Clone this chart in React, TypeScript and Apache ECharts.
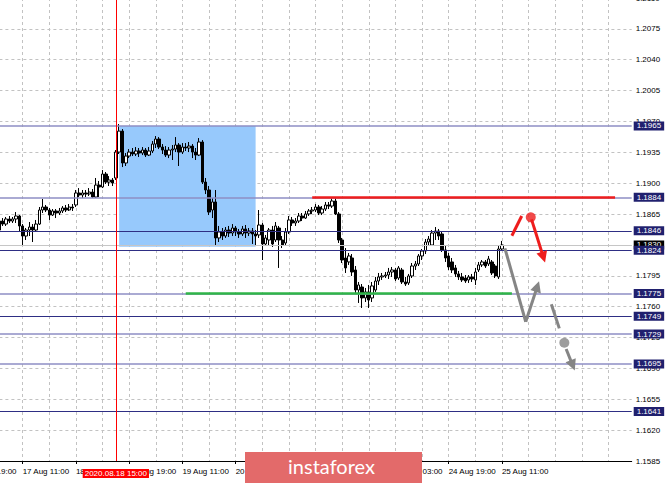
import React, { useEffect, useRef } from "react";
import * as echarts from "echarts";

// ---------- time axis (H1 bars, weekend skipped) ----------
const MONTHS = ["Jan", "Feb", "Mar", "Apr", "May", "Jun", "Jul", "Aug", "Sep", "Oct", "Nov", "Dec"];
const FIRST_CATEGORY_UTC = Date.UTC(2020, 7, 14, 19); // 14 Aug 19:00
const CATEGORY_COUNT = 200;
const LABEL_STEP = 16;
const GRID_STEP = 8;

function buildCategories(): string[] {
  const out: string[] = [];
  let t = FIRST_CATEGORY_UTC;
  while (out.length < CATEGORY_COUNT) {
    const d = new Date(t);
    const wd = d.getUTCDay();
    if (wd !== 0 && wd !== 6) {
      out.push(`${d.getUTCDate()} ${MONTHS[d.getUTCMonth()]} ${String(d.getUTCHours()).padStart(2, "0")}:00`);
    }
    t += 3600000;
  }
  return out;
}
const categories = buildCategories();

// ---------- candles (EURUSD H1), first visible bar at category 9 ----------
const FIRST_BAR = 9;
const opens = [
  1.18469, 1.18571, 1.18537, 1.18594, 1.18571, 1.18594, 1.18628, 1.18515, 1.18401, 1.18469, 1.18503, 1.18469,
  1.18537, 1.18696, 1.18730, 1.18696, 1.18639, 1.18685, 1.18662, 1.18685, 1.18719, 1.18696, 1.18730, 1.18753,
  1.18889, 1.18866, 1.18889, 1.18877, 1.18900, 1.18843, 1.18979, 1.18957, 1.19104, 1.19013, 1.19036, 1.19059,
  1.19353, 1.19591, 1.19229, 1.19308, 1.19353, 1.19331, 1.19365, 1.19342, 1.19376, 1.19319, 1.19365, 1.19444,
  1.19501, 1.19410, 1.19376, 1.19319, 1.19376, 1.19387, 1.19433, 1.19353, 1.19410, 1.19399, 1.19421, 1.19353,
  1.19319, 1.19467, 1.19013, 1.18923, 1.18696, 1.18787, 1.18379, 1.18447, 1.18401, 1.18469, 1.18435, 1.18492,
  1.18447, 1.18424, 1.18481, 1.18435, 1.18458, 1.18424, 1.18413, 1.18526, 1.18311, 1.18356, 1.18469, 1.18356,
  1.18492, 1.18356, 1.18322, 1.18447, 1.18583, 1.18549, 1.18571, 1.18628, 1.18605, 1.18651, 1.18685, 1.18696,
  1.18730, 1.18662, 1.18707, 1.18753, 1.18741, 1.18798, 1.18651, 1.18356, 1.18152, 1.18107, 1.18152, 1.18016,
  1.17789, 1.17823, 1.17699, 1.17767, 1.17699, 1.17789, 1.17891, 1.17937, 1.17948, 1.17959, 1.17993, 1.18016,
  1.17925, 1.18016, 1.17880, 1.17869, 1.17948, 1.18061, 1.18084, 1.18175, 1.18231, 1.18333, 1.18299, 1.18435,
  1.18458, 1.18424, 1.18243, 1.18175, 1.18107, 1.18039, 1.17971, 1.17937, 1.17925, 1.17903, 1.17937, 1.17903,
  1.18016, 1.18073, 1.18107, 1.18084, 1.18107, 1.18061, 1.17937, 1.18254,
];
const closes = [
  1.18571, 1.18537, 1.18594, 1.18571, 1.18594, 1.18628, 1.18515, 1.18401, 1.18469, 1.18503, 1.18469, 1.18537,
  1.18696, 1.18730, 1.18696, 1.18639, 1.18685, 1.18662, 1.18685, 1.18719, 1.18696, 1.18730, 1.18719, 1.18889,
  1.18866, 1.18889, 1.18877, 1.18900, 1.18843, 1.18979, 1.18957, 1.19104, 1.19013, 1.19036, 1.19002, 1.19353,
  1.19591, 1.19229, 1.19308, 1.19353, 1.19331, 1.19365, 1.19342, 1.19376, 1.19319, 1.19365, 1.19444, 1.19501,
  1.19410, 1.19376, 1.19319, 1.19376, 1.19387, 1.19433, 1.19353, 1.19410, 1.19399, 1.19421, 1.19353, 1.19319,
  1.19467, 1.19013, 1.18923, 1.18673, 1.18787, 1.18379, 1.18447, 1.18401, 1.18469, 1.18435, 1.18492, 1.18447,
  1.18424, 1.18481, 1.18435, 1.18458, 1.18424, 1.18401, 1.18526, 1.18311, 1.18379, 1.18469, 1.18311, 1.18515,
  1.18356, 1.18299, 1.18447, 1.18583, 1.18549, 1.18571, 1.18628, 1.18605, 1.18651, 1.18685, 1.18696, 1.18730,
  1.18662, 1.18707, 1.18753, 1.18741, 1.18798, 1.18651, 1.18356, 1.18129, 1.18039, 1.18175, 1.17993, 1.17789,
  1.17846, 1.17699, 1.17767, 1.17676, 1.17835, 1.17891, 1.17937, 1.17948, 1.17959, 1.17993, 1.18016, 1.17914,
  1.18039, 1.17880, 1.17857, 1.17948, 1.18061, 1.18084, 1.18175, 1.18231, 1.18333, 1.18367, 1.18435, 1.18458,
  1.18401, 1.18243, 1.18152, 1.18050, 1.18016, 1.17971, 1.17937, 1.17903, 1.17891, 1.17937, 1.17914, 1.17993,
  1.18073, 1.18107, 1.18061, 1.18141, 1.17982, 1.17948, 1.18254, 1.18299,
];
const lows = [
  1.18458, 1.18515, 1.18515, 1.18549, 1.18549, 1.18549, 1.18447, 1.18299, 1.18356, 1.18401, 1.18333, 1.18458,
  1.18526, 1.18662, 1.18673, 1.18583, 1.18628, 1.18605, 1.18639, 1.18662, 1.18673, 1.18685, 1.18685, 1.18730,
  1.18843, 1.18832, 1.18843, 1.18855, 1.18832, 1.18832, 1.18843, 1.18945, 1.18991, 1.18968, 1.18968, 1.19036,
  1.19331, 1.19183, 1.19195, 1.19285, 1.19308, 1.19308, 1.19297, 1.19319, 1.19297, 1.19308, 1.19342, 1.19399,
  1.19387, 1.19331, 1.19297, 1.19285, 1.19263, 1.19353, 1.19195, 1.19331, 1.19365, 1.19353, 1.19285, 1.19263,
  1.19308, 1.18991, 1.18877, 1.18639, 1.18605, 1.18288, 1.18333, 1.18356, 1.18379, 1.18390, 1.18401, 1.18401,
  1.18379, 1.18401, 1.18379, 1.18401, 1.18311, 1.18299, 1.18379, 1.18129, 1.18288, 1.18288, 1.18277, 1.18333,
  1.18039, 1.18265, 1.18288, 1.18424, 1.18515, 1.18515, 1.18549, 1.18571, 1.18594, 1.18628, 1.18651, 1.18673,
  1.18639, 1.18639, 1.18685, 1.18707, 1.18719, 1.18639, 1.18322, 1.18095, 1.17982, 1.18073, 1.17948, 1.17755,
  1.17642, 1.17585, 1.17653, 1.17585, 1.17653, 1.17767, 1.17846, 1.17903, 1.17925, 1.17914, 1.17937, 1.17891,
  1.17903, 1.17857, 1.17835, 1.17846, 1.17925, 1.18016, 1.18061, 1.18129, 1.18197, 1.18288, 1.18288, 1.18356,
  1.18356, 1.18220, 1.18107, 1.18016, 1.17982, 1.17937, 1.17903, 1.17880, 1.17869, 1.17869, 1.17880, 1.17846,
  1.17993, 1.18050, 1.18039, 1.18061, 1.17959, 1.17925, 1.17914, 1.18231,
];
const highs = [
  1.18617, 1.18605, 1.18617, 1.18628, 1.18617, 1.18673, 1.18639, 1.18537, 1.18492, 1.18560, 1.18537, 1.18583,
  1.18730, 1.18821, 1.18753, 1.18719, 1.18707, 1.18707, 1.18719, 1.18741, 1.18753, 1.18764, 1.18764, 1.18923,
  1.18945, 1.18923, 1.18923, 1.18945, 1.18934, 1.19059, 1.19025, 1.19149, 1.19127, 1.19081, 1.19059, 1.19376,
  1.19671, 1.19614, 1.19342, 1.19387, 1.19399, 1.19410, 1.19399, 1.19410, 1.19399, 1.19410, 1.19478, 1.19535,
  1.19523, 1.19444, 1.19421, 1.19410, 1.19433, 1.19523, 1.19455, 1.19455, 1.19455, 1.19467, 1.19444, 1.19399,
  1.19512, 1.19489, 1.19059, 1.18968, 1.18832, 1.18923, 1.18515, 1.18492, 1.18503, 1.18515, 1.18537, 1.18515,
  1.18481, 1.18515, 1.18526, 1.18492, 1.18492, 1.18469, 1.18696, 1.18549, 1.18413, 1.18492, 1.18515, 1.18560,
  1.18515, 1.18401, 1.18492, 1.18628, 1.18617, 1.18605, 1.18662, 1.18662, 1.18685, 1.18707, 1.18730, 1.18764,
  1.18753, 1.18741, 1.18787, 1.18787, 1.18832, 1.18843, 1.18673, 1.18379, 1.18265, 1.18209, 1.18197, 1.18061,
  1.17880, 1.17857, 1.17812, 1.17846, 1.17880, 1.17937, 1.17982, 1.17982, 1.17993, 1.18039, 1.18050, 1.18039,
  1.18061, 1.18039, 1.17937, 1.17971, 1.18095, 1.18118, 1.18197, 1.18254, 1.18367, 1.18401, 1.18469, 1.18503,
  1.18481, 1.18447, 1.18288, 1.18209, 1.18152, 1.18073, 1.18005, 1.17982, 1.17959, 1.17959, 1.17971, 1.18039,
  1.18107, 1.18129, 1.18129, 1.18175, 1.18129, 1.18084, 1.18288, 1.18345,
];
const LAST_BAR = FIRST_BAR + opens.length - 1;

// ---------- y axis ----------
const Y_MIN = 1.1585;
const Y_MAX = 1.211;
const Y_STEP = 0.0035;

// ---------- horizontal levels ----------
const levelPrices = [1.1965, 1.1884, 1.1846, 1.1824, 1.1775, 1.1749, 1.1729, 1.1695, 1.1641];
const levelIsStrong = [false, false, true, true, false, true, false, false, true];
const bidPrice = 1.183;
const markerTimeLabel = "2020.08.18 15:00";
const markerBar = 44;

// resistance / support segments
const resistance = { from: 103, to: 194, price: 1.1884 };
const support = { from: 65, to: 163, price: 1.1775 };
// highlighted range
const rangeBox = { from: 45, to: 86, top: 1.1965, bottom: 1.1828 };

// ---------- forecast sketch (bar position, price) ----------
const redLeg: number[][] = [[163.0, 1.18404], [165.96, 1.18628]];
const redDot = [168.67, 1.18613];
const redArrow: number[][] = [[168.9, 1.1859], [172.47, 1.18161]];
const grayLeg: number[][] = [[160.9, 1.18262], [167.16, 1.17429]];
const grayArrowUp: number[][] = [[167.16, 1.17429], [170.64, 1.17828]];
const grayDash: number[][] = [[174.85, 1.17627], [177.25, 1.17354]];
const grayDot = [178.76, 1.17191];
const grayArrowDown: number[][] = [[179.3, 1.1712], [181.28, 1.16935]];

const FONT = "'Liberation Sans', Arial, sans-serif";
const RED = "#ee1d1d";
const GRAY = "#858585";

export default function App() {
  const ref = useRef<HTMLDivElement>(null);

  useEffect(() => {
    if (!ref.current) return;
    const chart = echarts.init(ref.current, undefined, { renderer: "svg" });

    const candleData: any[] = [];
    for (let i = 0; i < FIRST_BAR; i++) candleData.push("-");
    opens.forEach((o, k) => candleData.push([o, closes[k], lows[k], highs[k]]));

    const labelInterval = (i: number) => i % LABEL_STEP === 0 && i <= LAST_BAR;
    const gridInterval = (i: number) => i % GRID_STEP === 0;

    const boxLabel = (text: string, bg: string) => ({
      show: true,
      position: "end",
      formatter: text,
      backgroundColor: bg,
      color: "#ffffff",
      fontFamily: FONT,
      fontSize: 8,
      lineHeight: 9,
      padding: [0, 3, 0, 3],
      distance: 2,
    });

    const markLineData: any[] = [];
    markLineData.push({
      yAxis: bidPrice,
      lineStyle: { color: "#c6c6c6", width: 1, type: "solid" },
      label: boxLabel(bidPrice.toFixed(4), "#000000"),
    });
    levelPrices.forEach((p, k) => {
      markLineData.push({
        yAxis: p,
        lineStyle: levelIsStrong[k]
          ? { color: "#2e2e84", width: 1, type: "solid" }
          : { color: "#8e8ec4", width: 1.6, type: "solid" },
        label: boxLabel(p.toFixed(4), "#20206e"),
      });
    });
    markLineData.push([
      { coord: [categories[support.from], support.price], lineStyle: { color: "#2fb548", width: 2.6, type: "solid" } },
      { coord: [categories[support.to], support.price] },
    ]);
    markLineData.push([
      { coord: [categories[resistance.from], resistance.price], lineStyle: { color: RED, width: 2.6, type: "solid" } },
      { coord: [categories[resistance.to], resistance.price] },
    ]);
    markLineData.push({
      xAxis: categories[markerBar],
      lineStyle: { color: "#ff0000", width: 1, type: "solid" },
      label: {
        show: true,
        position: "start",
        formatter: markerTimeLabel,
        backgroundColor: "#ff0000",
        color: "#ffffff",
        fontFamily: FONT,
        fontSize: 8,
        lineHeight: 9,
        padding: [0, 2, 0, 2],
        distance: 8,
      },
    });

    const option: any = {
      animation: false,
      backgroundColor: "#ffffff",
      textStyle: { fontFamily: FONT },
      grid: { left: -30.6, right: 33.3, top: -2, bottom: 22, containLabel: false, outerBoundsMode: "none" },
      xAxis: [
        {
          type: "category",
          data: categories,
          boundaryGap: false,
          axisLine: { show: true, lineStyle: { color: "#000000", width: 1 } },
          axisTick: { show: true, interval: labelInterval, length: 3, lineStyle: { color: "#000000" } },
          axisLabel: {
            interval: labelInterval,
            align: "left",
            margin: 6,
            color: "#000000",
            fontSize: 8,
            fontFamily: FONT,
          },
          splitLine: {
            show: true,
            interval: gridInterval,
            lineStyle: { color: "#c2c2c2", width: 1, type: [3, 3] },
          },
        },
        { type: "value", min: 0, max: CATEGORY_COUNT - 1, show: false },
      ],
      yAxis: {
        type: "value",
        position: "right",
        min: Y_MIN,
        max: Y_MAX,
        interval: Y_STEP,
        axisLine: { show: true, lineStyle: { color: "#000000", width: 1 } },
        axisTick: { show: true, length: 3, lineStyle: { color: "#000000" } },
        axisLabel: {
          formatter: (v: number) => v.toFixed(4),
          margin: 4,
          color: "#000000",
          fontSize: 8,
          fontFamily: FONT,
        },
        splitLine: { show: true, lineStyle: { color: "#c2c2c2", width: 1, type: [3, 3] } },
      },
      series: [
        {
          type: "candlestick",
          xAxisIndex: 0,
          yAxisIndex: 0,
          data: candleData,
          barWidth: 2.9,
          itemStyle: {
            color: "#ffffff",
            color0: "#000000",
            borderColor: "#000000",
            borderColor0: "#000000",
            borderWidth: 1,
          },
          markArea: {
            silent: true,
            itemStyle: { color: "#97c9fc", opacity: 1 },
            data: [
              [
                { coord: [categories[rangeBox.from], rangeBox.top] },
                { coord: [categories[rangeBox.to], rangeBox.bottom] },
              ],
            ],
          },
          markLine: {
            silent: true,
            precision: 5,
            symbol: ["none", "none"],
            label: { show: false },
            data: markLineData,
          },
        },
        {
          type: "lines",
          coordinateSystem: "cartesian2d",
          xAxisIndex: 1,
          yAxisIndex: 0,
          z: 6,
          symbol: ["none", "none"],
          lineStyle: { color: RED, width: 3, opacity: 1, curveness: 0 },
          data: [{ coords: redLeg }],
        },
        {
          type: "lines",
          coordinateSystem: "cartesian2d",
          xAxisIndex: 1,
          yAxisIndex: 0,
          z: 6,
          symbol: ["none", "triangle"],
          symbolSize: 11,
          lineStyle: { color: RED, width: 3, opacity: 1, curveness: 0 },
          data: [{ coords: redArrow }],
        },
        {
          type: "lines",
          coordinateSystem: "cartesian2d",
          xAxisIndex: 1,
          yAxisIndex: 0,
          z: 6,
          symbol: ["none", "none"],
          lineStyle: { color: GRAY, width: 3, opacity: 1, curveness: 0 },
          data: [{ coords: grayLeg }, { coords: grayDash }],
        },
        {
          type: "lines",
          coordinateSystem: "cartesian2d",
          xAxisIndex: 1,
          yAxisIndex: 0,
          z: 6,
          symbol: ["none", "triangle"],
          symbolSize: 11,
          lineStyle: { color: GRAY, width: 3, opacity: 1, curveness: 0 },
          data: [{ coords: grayArrowUp }, { coords: grayArrowDown }],
        },
        {
          type: "scatter",
          xAxisIndex: 1,
          yAxisIndex: 0,
          z: 7,
          symbolSize: 10,
          data: [
            { value: redDot, itemStyle: { color: RED } },
            { value: grayDot, itemStyle: { color: GRAY } },
          ],
        },
      ],
      graphic: [
        {
          type: "rect",
          left: 245,
          top: 452,
          z: 100,
          shape: { width: 177, height: 31 },
          style: { fill: "#e36a6a" },
        },
        {
          type: "text",
          x: 331.5,
          y: 466,
          z: 101,
          style: {
            text: "instaforex",
            fill: "#ffffff",
            font: "20px Lato, 'Open Sans', sans-serif",
            textAlign: "center",
            textVerticalAlign: "middle",
          },
        },
      ],
    };

    chart.setOption(option);
    return () => chart.dispose();
  }, []);

  return (
    <div
      ref={ref}
      style={{ position: "fixed", left: 0, top: 0, width: 665, height: 483, background: "#ffffff" }}
    />
  );
}
